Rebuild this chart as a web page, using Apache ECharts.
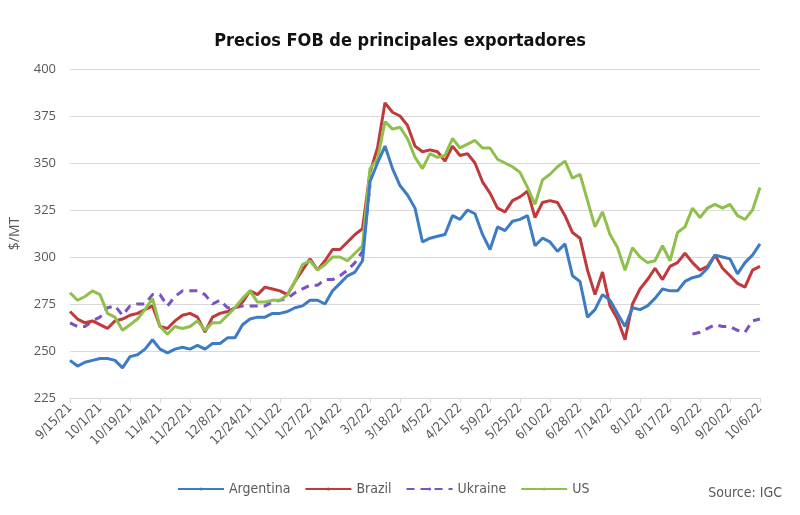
<!DOCTYPE html>
<html>
<head>
<meta charset="utf-8">
<script src="https://cdn.jsdelivr.net/npm/echarts@6/dist/echarts.min.js"></script>
<style>
  html, body { margin: 0; padding: 0; background: #fff; }
  #chart { width: 800px; height: 515px; }
</style>
</head>
<body>
<div id="chart"></div>
<script>
// ejes: un punto cada 3 días hábiles desde 9/15/21, etiqueta cada 12 días hábiles
var startDate = '2021-09-15';
var pointCount = 93;
var stepDays = 3;

// valores ($/MT)
var argentina = [245,242,244,245,246,246,245,241,247,248,251,256,251,249,251,252,251,253,251,254,
  254,257,257,264,267,268,268,270,270,271,273,274,277,277,275,282,286,290,292,298,
  340,350,359,347,338,333,326,308,310,311,312,322,320,325,323,312,304,316,314,319,
  320,322,306,310,308,303,307,290,287,268,272,280,277,270,263,273,272,274,278,283,
  282,282,287,289,290,294,301,300,299,291,297,301,307];

var brazil = [271,267,265,266,264,262,266,267,269,270,272,274,263,262,266,269,270,268,260,268,
  270,271,273,276,282,280,284,283,282,280,287,293,299,293,298,304,304,308,312,315,
  345,358,382,377,375,370,359,356,357,356,351,359,354,355,350,340,334,326,324,330,
  332,335,321,329,330,329,322,313,310,293,280,292,274,267,256,275,283,288,294,288,
  295,297,302,297,293,295,301,294,290,286,284,293,295];

var ukraine = [265,263,263,266,268,273,274,269,274,275,275,280,280,274,279,282,282,282,280,275,
  277,273,273,274,274,274,274,276,277,278,281,283,285,285,288,288,290,293,297,303,
  338,null,null,null,null,null,null,null,null,null,null,null,null,null,null,null,null,null,null,null,
  null,null,null,null,null,null,null,null,null,null,null,null,null,null,null,null,null,null,null,null,
  null,null,null,259,260,262,264,263,263,261,260,266,267];

var us = [281,277,279,282,280,270,268,261,264,267,272,278,263,259,263,262,263,266,261,265,
  265,269,273,278,282,276,276,277,277,280,287,296,298,293,296,300,300,298,302,306,
  347,352,372,368,369,363,353,347,355,353,354,363,358,360,362,358,358,352,350,348,
  345,337,328,341,344,348,351,342,344,330,316,324,312,305,293,305,300,297,298,306,
  298,313,316,326,321,326,328,326,328,322,320,325,337];

// fechas hábiles (lun-vie) como categorías M/D/YY
function businessDays(start, n, step) {
  var out = [];
  var d = new Date(start + 'T12:00:00');
  var count = 0;
  while (out.length < n) {
    var wd = d.getDay();
    if (wd !== 0 && wd !== 6) {
      if (count % step === 0) {
        out.push((d.getMonth() + 1) + '/' + d.getDate() + '/' + String(d.getFullYear()).slice(2));
      }
      count++;
    }
    d.setDate(d.getDate() + 1);
  }
  return out;
}
var categories = businessDays(startDate, pointCount, stepDays);

var narrow = '"Liberation Sans Narrow", "DejaVu Sans Condensed", "Roboto", sans-serif';

var chart = echarts.init(document.getElementById('chart'));
var option = {
  animation: false,
  backgroundColor: '#fff',
  title: {
    text: 'Precios FOB de principales exportadores',
    left: 'center',
    top: 27,
    textStyle: { fontFamily: narrow, fontSize: 18, fontWeight: 'bold', color: '#111' }
  },
  grid: { left: 62, right: 40, top: 69, bottom: 117 },
  legend: {
    bottom: 14,
    left: 172,
    itemWidth: 46,
    itemHeight: 4,
    itemGap: 14,
    textStyle: { fontFamily: narrow, fontSize: 14, color: '#595959' },
    data: ['Argentina', 'Brazil', 'Ukraine', 'US']
  },
  graphic: [{
    type: 'text',
    right: 18,
    bottom: 15,
    style: { text: 'Source: IGC', fontFamily: narrow, fontSize: 14, fill: '#595959' }
  }],
  xAxis: {
    type: 'category',
    data: categories,
    boundaryGap: false,
    axisLine: { lineStyle: { color: '#d9d9d9' } },
    axisTick: { interval: 3, length: 5, lineStyle: { color: '#d9d9d9' } },
    axisLabel: {
      interval: 3,
      rotate: 45,
      margin: 8,
      fontFamily: narrow,
      fontSize: 13,
      color: '#595959'
    },
    splitLine: { show: false }
  },
  yAxis: {
    type: 'value',
    min: 225,
    max: 400,
    interval: 25,
    name: '$/MT',
    nameLocation: 'middle',
    nameRotate: 90,
    nameGap: 48,
    nameTextStyle: { fontFamily: '"Open Sans", sans-serif', fontSize: 14, color: '#595959' },
    axisLine: { show: false },
    axisTick: { show: false },
    axisLabel: { margin: 14, fontFamily: '"Open Sans", sans-serif', fontSize: 13, color: '#595959' },
    splitLine: { lineStyle: { color: '#d9d9d9', width: 1 } }
  },
  series: [
    {
      name: 'Argentina', type: 'line', data: argentina, symbol: 'none',
      lineStyle: { color: '#3d7cc4', width: 3 }, itemStyle: { color: '#3d7cc4' }, z: 4
    },
    {
      name: 'Brazil', type: 'line', data: brazil, symbol: 'none',
      lineStyle: { color: '#c0393b', width: 3 }, itemStyle: { color: '#c0393b' }, z: 3
    },
    {
      name: 'Ukraine', type: 'line', data: ukraine, symbol: 'none', connectNulls: false,
      lineStyle: { color: '#7a52c4', width: 3, type: [8, 6] }, itemStyle: { color: '#7a52c4' }, z: 2
    },
    {
      name: 'US', type: 'line', data: us, symbol: 'none',
      lineStyle: { color: '#8fc04c', width: 3 }, itemStyle: { color: '#8fc04c' }, z: 3
    }
  ]
};
chart.setOption(option);
</script>
</body>
</html>
